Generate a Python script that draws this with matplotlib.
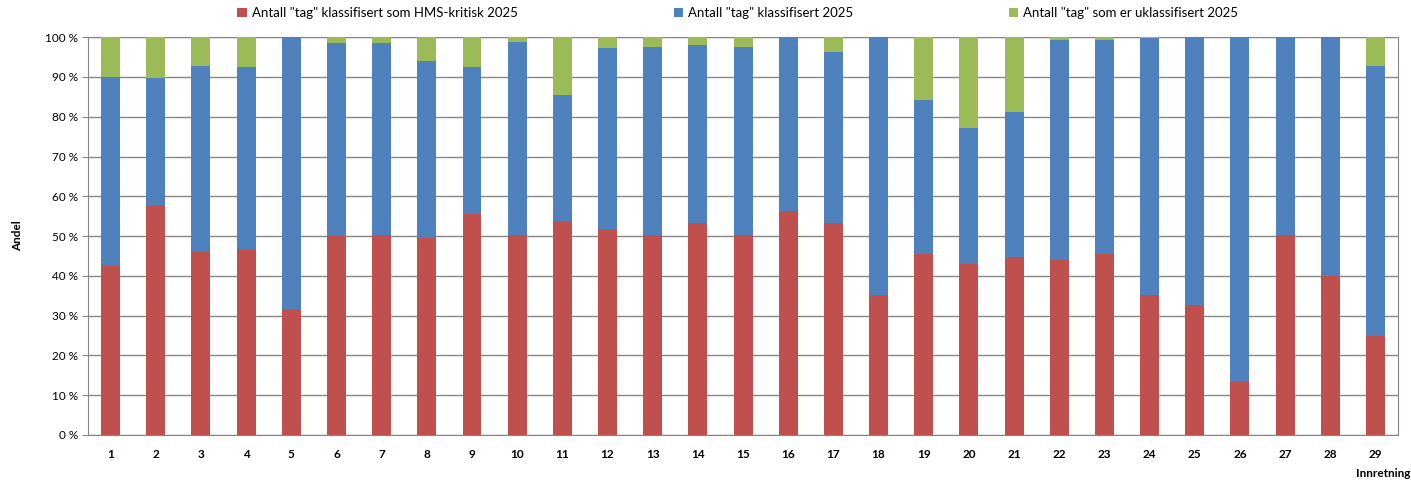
import numpy as np
import matplotlib.pyplot as plt
from matplotlib.ticker import FuncFormatter

# Andel per innretning (prosent)
innretning = [str(i) for i in range(1, 30)]
hms_kritisk = np.array([42.6, 57.7, 46.0, 46.5, 31.7, 49.9, 50.3, 49.5, 55.5, 50.3,
                        53.9, 51.7, 50.3, 53.4, 50.3, 56.4, 53.4, 35.2, 45.6, 43.0,
                        44.7, 43.9, 45.6, 35.2, 32.7, 13.6, 50.3, 40.0, 24.8])
topp_klassifisert = np.array([90.1, 89.7, 92.8, 92.4, 100.0, 98.5, 98.5, 94.1, 92.4, 98.9,
                              85.4, 97.2, 97.6, 98.0, 97.6, 100.0, 96.3, 100.0, 84.2, 77.2,
                              81.1, 99.3, 99.3, 99.7, 100.0, 100.0, 100.0, 100.0, 92.8])
klassifisert = topp_klassifisert - hms_kritisk
uklassifisert = 100.0 - topp_klassifisert

labels = ['Antall "tag" klassifisert som HMS-kritisk 2025',
          'Antall "tag" klassifisert 2025',
          'Antall "tag" som er uklassifisert 2025']
colors = ['#C0504D', '#4F81BD', '#9BBB59']

plt.rcParams['font.family'] = ['Lato', 'DejaVu Sans']

fig = plt.figure(figsize=(14.11, 4.83), dpi=100)
ax = fig.add_axes([0.0624, 0.0994, 0.9284, 0.8236])

x = np.arange(len(innretning))
w = 0.42
ax.bar(x, hms_kritisk, w, color=colors[0], label=labels[0], zorder=3)
ax.bar(x, klassifisert, w, bottom=hms_kritisk, color=colors[1], label=labels[1], zorder=3)
ax.bar(x, uklassifisert, w, bottom=topp_klassifisert, color=colors[2], label=labels[2], zorder=3)

ax.set_xlim(-0.5, len(innretning) - 0.5)
ax.set_ylim(0, 100)
ax.set_yticks(np.arange(0, 101, 10))
ax.yaxis.set_major_formatter(FuncFormatter(lambda v, p: f"{int(v)} %"))
ax.set_xticks(x)
ax.set_xticklabels(innretning, fontweight='bold')
ax.tick_params(axis='x', length=0, labelsize=8.5, pad=10)
ax.tick_params(axis='y', length=4, color='#868686', labelsize=8.5, pad=3)
ax.grid(axis='y', color='#868686', linewidth=1, zorder=0)
for s in ax.spines.values():
    s.set_color('#868686')

ax.set_ylabel('Andel', fontsize=8.5, fontweight='bold', labelpad=16)
fig.text(0.9995, 0.008, 'Innretning', fontsize=8.5, fontweight='bold', ha='right', va='bottom')

fig.legend(loc='upper center', bbox_to_anchor=(0.523, 1.01), ncol=3, frameon=False,
           fontsize=9.5, handlelength=0.7, handleheight=0.7, handletextpad=0.4,
           columnspacing=11.8)

fig.savefig('out.png', dpi=100)
